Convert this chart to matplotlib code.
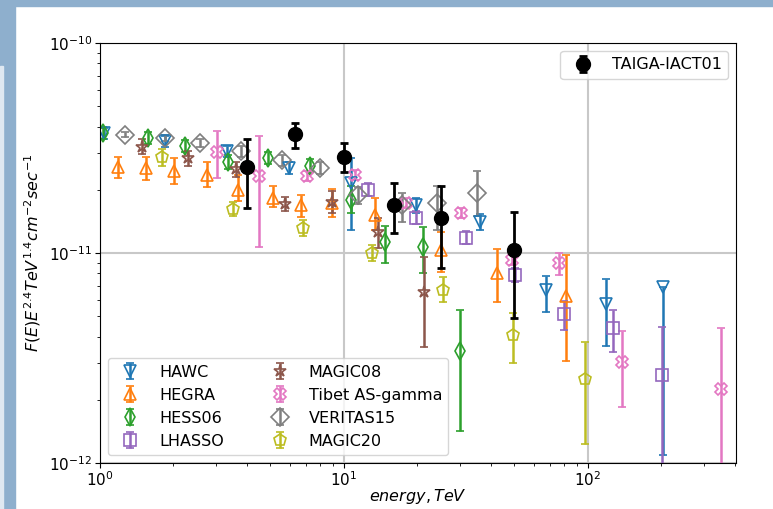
import matplotlib
matplotlib.use("Agg")
import matplotlib.pyplot as plt
from matplotlib.patches import Rectangle
import numpy as np

# energies in TeV, flux F(E)E^2.4, and lower / upper error bounds
taiga_e = [4.0, 6.3, 10.0, 16.0, 25.0, 50.0]
taiga_f = [2.57e-11, 3.69e-11, 2.86e-11, 1.69e-11, 1.47e-11, 1.03e-11]
taiga_lo = [1.64e-11, 3.16e-11, 2.43e-11, 1.25e-11, 8.5e-12, 4.9e-12]
taiga_hi = [3.49e-11, 4.16e-11, 3.34e-11, 2.16e-11, 2.08e-11, 1.57e-11]

hawc_e = [1.04, 1.85, 3.31, 5.95, 10.7, 19.7, 36.1, 67.3, 118.6, 203.0]
hawc_f = [3.73e-11, 3.41e-11, 3.06e-11, 2.54e-11, 2.16e-11, 1.69e-11, 1.41e-11, 6.67e-12, 5.72e-12, 6.89e-12]
hawc_lo = [3.5e-11, 3.2e-11, 2.85e-11, 2.38e-11, 1.29e-11, 1.55e-11, 1.29e-11, 5.24e-12, 3.61e-12, 1.09e-12]
hawc_hi = [3.95e-11, 3.62e-11, 3.25e-11, 2.7e-11, 2.83e-11, 1.83e-11, 1.53e-11, 7.77e-12, 7.51e-12, 6.89e-12]

hegra_e = [1.185, 1.543, 2.01, 2.745, 3.68, 5.12, 6.67, 8.93, 13.4, 25.0, 42.4, 81.3]
hegra_f = [2.57e-11, 2.54e-11, 2.46e-11, 2.35e-11, 2.0e-11, 1.83e-11, 1.69e-11, 1.73e-11, 1.52e-11, 1.03e-11, 8.04e-12, 6.24e-12]
hegra_lo = [2.28e-11, 2.23e-11, 2.13e-11, 2.06e-11, 1.77e-11, 1.66e-11, 1.48e-11, 1.48e-11, 1.29e-11, 8.13e-12, 5.85e-12, 3.06e-12]
hegra_hi = [2.86e-11, 2.86e-11, 2.83e-11, 2.71e-11, 2.35e-11, 2.08e-11, 1.89e-11, 2.02e-11, 1.83e-11, 1.26e-11, 1.05e-11, 9.77e-12]

hess_e = [1.03, 1.57, 2.23, 3.35, 4.88, 7.26, 10.7, 14.7, 21.1, 29.9]
hess_f = [3.73e-11, 3.53e-11, 3.23e-11, 2.71e-11, 2.83e-11, 2.6e-11, 1.79e-11, 1.13e-11, 1.07e-11, 3.41e-12]
hess_lo = [3.5e-11, 3.3e-11, 3.02e-11, 2.52e-11, 2.64e-11, 2.42e-11, 1.55e-11, 8.96e-12, 8.04e-12, 1.42e-12]
hess_hi = [3.97e-11, 3.78e-11, 3.46e-11, 2.92e-11, 3.03e-11, 2.79e-11, 2.08e-11, 1.35e-11, 1.33e-11, 5.36e-12]

lhaaso_e = [12.5, 19.7, 31.6, 50.2, 79.7, 126.6, 201.0]
lhaaso_f = [2.0e-11, 1.47e-11, 1.18e-11, 7.85e-12, 5.13e-12, 4.4e-12, 2.62e-12]
lhaaso_lo = [1.86e-11, 1.37e-11, 1.1e-11, 7.3e-12, 4.3e-12, 3.38e-12, 8e-13]
lhaaso_hi = [2.15e-11, 1.58e-11, 1.27e-11, 8.45e-12, 5.91e-12, 5.36e-12, 4.45e-12]

magic08_e = [1.486, 2.29, 3.61, 5.73, 8.93, 13.8, 21.3]
magic08_f = [3.2e-11, 2.83e-11, 2.51e-11, 1.71e-11, 1.75e-11, 1.26e-11, 6.52e-12]
magic08_lo = [2.95e-11, 2.6e-11, 2.3e-11, 1.58e-11, 1.55e-11, 1.06e-11, 3.57e-12]
magic08_hi = [3.48e-11, 3.06e-11, 2.72e-11, 1.85e-11, 1.97e-11, 1.47e-11, 9.57e-12]

tibet_e = [3.02, 4.48, 7.05, 11.1, 17.9, 30.2, 48.8, 76.1, 137.8, 350.8]
tibet_f = [3.03e-11, 2.33e-11, 2.33e-11, 2.35e-11, 1.73e-11, 1.55e-11, 9.27e-12, 8.96e-12, 3.03e-12, 2.25e-12]
tibet_lo = [2.28e-11, 1.07e-11, 2.2e-11, 2.22e-11, 1.64e-11, 1.47e-11, 8.8e-12, 7.85e-12, 1.85e-12, 8e-13]
tibet_hi = [3.81e-11, 3.61e-11, 2.47e-11, 2.48e-11, 1.83e-11, 1.64e-11, 9.8e-12, 1.0e-11, 4.25e-12, 4.4e-12]

veritas_e = [1.266, 1.85, 2.57, 3.78, 5.57, 7.97, 11.4, 17.3, 24.0, 35.1]
veritas_f = [3.65e-11, 3.53e-11, 3.34e-11, 3.06e-11, 2.77e-11, 2.54e-11, 1.89e-11, 1.69e-11, 1.73e-11, 1.93e-11]
veritas_lo = [3.55e-11, 3.43e-11, 3.18e-11, 2.88e-11, 2.6e-11, 2.38e-11, 1.72e-11, 1.41e-11, 1.29e-11, 1.5e-11]
veritas_hi = [3.75e-11, 3.63e-11, 3.5e-11, 3.24e-11, 2.94e-11, 2.7e-11, 2.07e-11, 1.93e-11, 2.08e-11, 2.46e-11]

magic20_e = [1.795, 3.51, 6.79, 13.1, 25.5, 49.3, 97.2]
magic20_f = [2.86e-11, 1.62e-11, 1.31e-11, 1.0e-11, 6.67e-12, 4.07e-12, 2.51e-12]
magic20_lo = [2.6e-11, 1.5e-11, 1.2e-11, 9.2e-12, 5.85e-12, 2.99e-12, 1.23e-12]
magic20_hi = [3.12e-11, 1.75e-11, 1.43e-11, 1.09e-11, 7.69e-12, 5.18e-12, 3.77e-12]

series = [
    ("HAWC", hawc_e, hawc_f, hawc_lo, hawc_hi, "tab:blue", "v"),
    ("HEGRA", hegra_e, hegra_f, hegra_lo, hegra_hi, "tab:orange", "^"),
    ("HESS06", hess_e, hess_f, hess_lo, hess_hi, "tab:green", "d"),
    ("LHASSO", lhaaso_e, lhaaso_f, lhaaso_lo, lhaaso_hi, "tab:purple", "s"),
    ("MAGIC08", magic08_e, magic08_f, magic08_lo, magic08_hi, "tab:brown", "*"),
    ("Tibet AS-gamma", tibet_e, tibet_f, tibet_lo, tibet_hi, "tab:pink", "X"),
    ("VERITAS15", veritas_e, veritas_f, veritas_lo, veritas_hi, "tab:gray", "D"),
    ("MAGIC20", magic20_e, magic20_f, magic20_lo, magic20_hi, "tab:olive", "p"),
]

fig = plt.figure(figsize=(7.73, 5.09), dpi=100)
# slide frame around the chart
fig.patches.append(Rectangle((0, 0.988), 1, 0.012, transform=fig.transFigure, color="#8eafcd", zorder=-1))
fig.patches.append(Rectangle((0, 0), 0.0195, 1, transform=fig.transFigure, color="#8eafcd", zorder=-1))
fig.patches.append(Rectangle((0, 0), 0.004, 0.87, transform=fig.transFigure, color="#dfe8f1", zorder=-1))

ax = fig.add_axes([0.1294, 0.0904, 0.8226, 0.8251])

handles = []
for name, e, f, lo, hi, c, m in series:
    f = np.array(f)
    yerr = [f - np.array(lo), np.array(hi) - f]
    h = ax.errorbar(e, f, yerr=yerr, fmt=m, color=c, mfc="none", mec=c, ms=9,
                    mew=1.2, elinewidth=1.8, capsize=3, capthick=1.8, label=name)
    handles.append(h)

t = np.array(taiga_f)
ht = ax.errorbar(taiga_e, t, yerr=[t - np.array(taiga_lo), np.array(taiga_hi) - t], fmt="o",
                 color="black", ms=10, elinewidth=2, capsize=3, capthick=2, label="TAIGA-IACT01", zorder=5)

ax.set_xscale("log")
ax.set_yscale("log")
ax.set_xlim(1, 405)
ax.set_ylim(1e-12, 1e-10)
ax.grid(True, which="major", color="#c8c8c8", linewidth=1.5)
ax.tick_params(labelsize=11, pad=2)
ax.set_xlabel("$energy, TeV$", fontsize=11.5, labelpad=-2)
ax.set_ylabel("$F(E)E^{2.4}TeV^{1.4}cm^{-2}sec^{-1}$", fontsize=11.5)
ax.yaxis.set_label_coords(-0.09, 0.5)

leg1 = ax.legend(handles=handles, loc="lower left", ncol=2, fontsize=11.5, columnspacing=2.5)
ax.add_artist(leg1)
ax.legend(handles=[ht], loc="upper right", fontsize=11.5)

plt.savefig("out.png", dpi=100)
